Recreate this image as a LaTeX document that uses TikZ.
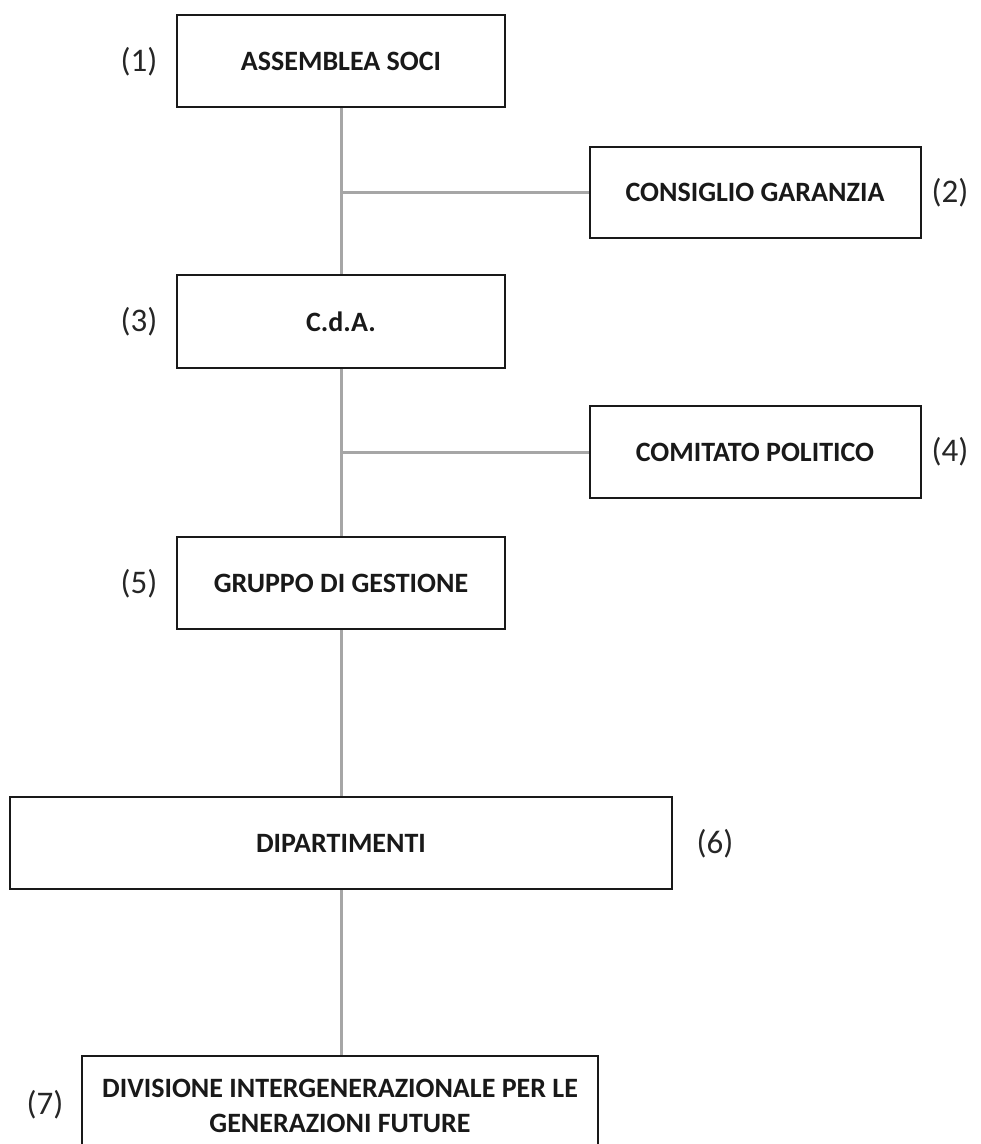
\documentclass[tikz,border=0pt]{standalone}
\usepackage{fontspec}
\setmainfont{Carlito}
\usetikzlibrary{calc}

\tikzset{
  boite/.style={draw=black!90, line width=2pt, inner sep=0pt, align=center,
    font=\fontsize{28}{35}\selectfont\bfseries, text=black!90},
  numero/.style={font=\fontsize{33}{36}\selectfont, text=black!85},
  trait/.style={draw=gray!70, line width=3pt}
}

\begin{document}
\begin{tikzpicture}[x=1pt,y=1pt]
  % Cadre de la figure
  \useasboundingbox (0,0) rectangle (981,-1144);

  % Boites
  \node[boite, minimum width=328, minimum height=92] (assemblea) at (341,-61) {ASSEMBLEA SOCI};
  \node[boite, minimum width=331, minimum height=91] (consiglio) at (755,-192.5) {CONSIGLIO GARANZIA};
  \node[boite, minimum width=328, minimum height=93] (cda) at (341,-321.5) {C.d.A.};
  \node[boite, minimum width=331, minimum height=92] (comitato) at (755,-452) {COMITATO POLITICO};
  \node[boite, minimum width=328, minimum height=92] (gruppo) at (341,-583) {GRUPPO DI GESTIONE};
  \node[boite, minimum width=662, minimum height=92] (dipartimenti) at (341,-843) {DIPARTIMENTI};
  \node[boite, minimum width=516, minimum height=100] (divisione) at (340,-1106)
    {DIVISIONE INTERGENERAZIONALE PER LE\\GENERAZIONI FUTURE};

  % Numeri
  \node[numero] (n1) at (139,-62) {(1)};
  \node[numero] (n2) at (950,-193) {(2)};
  \node[numero] (n3) at (139,-322) {(3)};
  \node[numero] (n4) at (950,-452) {(4)};
  \node[numero] (n5) at (139,-584) {(5)};
  \node[numero] (n6) at (715,-844) {(6)};
  \node[numero] (n7) at (45,-1105) {(7)};

  % Linee verticali
  \draw[trait] (assemblea.south) -- (cda.north);
  \draw[trait] (cda.south) -- (gruppo.north);
  \draw[trait] (gruppo.south) -- (dipartimenti.north);
  \draw[trait] (dipartimenti.south) -- (dipartimenti.south |- divisione.north);

  % Linee orizzontali
  \draw[trait] (consiglio.west) -- (consiglio.west -| assemblea.south);
  \draw[trait] (comitato.west) -- (comitato.west -| cda.south);
\end{tikzpicture}
\end{document}
